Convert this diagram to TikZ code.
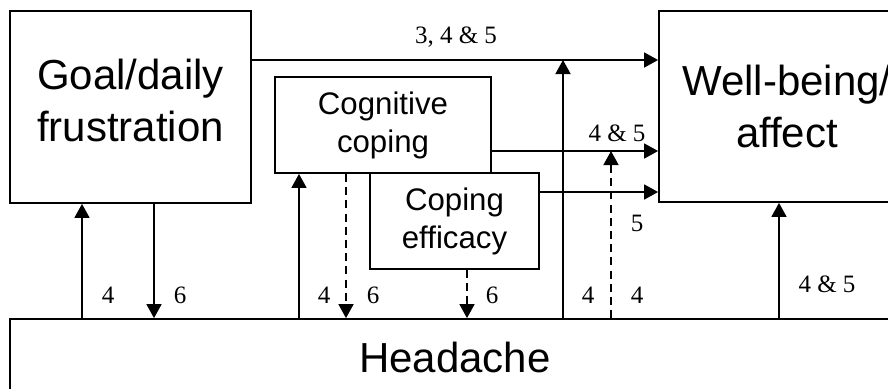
\documentclass[tikz,border=0pt]{standalone}
\usepackage{fontspec}
\setmainfont{Liberation Serif}
\newfontfamily\boxfont{Liberation Sans}
\usetikzlibrary{arrows.meta}
\begin{document}
\begin{tikzpicture}[x=0.5pt,y=-0.5pt,
  box/.style={draw,line width=0.9pt,inner sep=0pt,align=center},
  bigbox/.style={box,font=\boxfont\fontsize{21}{26}\selectfont},
  smallbox/.style={box,font=\boxfont\fontsize{15.6}{19}\selectfont},
  lab/.style={inner sep=0pt,font=\fontsize{12.5}{14}\selectfont},
  arr/.style={line width=0.8pt,-{Triangle[length=7pt,width=7.5pt]}},
  dasharr/.style={arr,dash pattern=on 4pt off 2.6pt}]
\useasboundingbox (0,0) rectangle (888,388);
\clip (0,0) rectangle (888,388);
% boxes
\node[bigbox,minimum width=120.5pt,minimum height=96pt,text depth=7pt] (goal) at (130.5,107) {Goal/daily\\frustration};
\node[bigbox,minimum width=128pt,minimum height=95.5pt] (well) at (787,106.5) {Well-being/\\affect};
\node[bigbox,minimum width=445pt,minimum height=38pt] (head) at (455,357) {Headache};
\node[smallbox,minimum width=108pt,minimum height=48pt] (cog) at (383,125) {Cognitive\\coping};
\node[smallbox,fill=white,minimum width=84.5pt,minimum height=48pt] (eff) at (454.5,221) {Coping\\efficacy};
% positions of the lines
\coordinate (ytop) at (0,60);
\coordinate (ycog) at (0,151);
\coordinate (yeff) at (0,192);
\coordinate (xa) at (82,0);
\coordinate (xb) at (154,0);
\coordinate (xc) at (299,0);
\coordinate (xd) at (346,0);
\coordinate (xe) at (467,0);
\coordinate (xf) at (563,0);
\coordinate (xg) at (611,0);
\coordinate (xh) at (779,0);
% horizontal paths
\draw[arr] (goal.east |- ytop) -- (well.west |- ytop);
\draw[arr] (cog.east |- ycog) -- (well.west |- ycog);
\draw[arr] (eff.east |- yeff) -- (well.west |- yeff);
% vertical paths
\draw[arr] (xa |- head.north) -- (xa |- goal.south);
\draw[arr] (xb |- goal.south) -- (xb |- head.north);
\draw[arr] (xc |- head.north) -- (xc |- cog.south);
\draw[dasharr] (xd |- cog.south) -- (xd |- head.north);
\draw[dasharr] (xe |- eff.south) -- (xe |- head.north);
\draw[arr] (xf |- head.north) -- (xf |- ytop);
\draw[dasharr] (xg |- head.north) -- (xg |- ycog);
\draw[arr] (xh |- head.north) -- (xh |- well.south);
% labels
\node[lab] (ltop) at (456,37) {3, 4 \& 5};
\node[lab] (lcog) at (617,133) {4 \& 5};
\node[lab] (leff) at (637,223) {5};
\node[lab] (lwell) at (827,284) {4 \& 5};
\foreach \x/\t [count=\i] in {108/4,180/6,324/4,373/6,492/6,588/4,637/4}
  \node[lab] (n\i) at (\x,295) {\t};
\end{tikzpicture}
\end{document}
